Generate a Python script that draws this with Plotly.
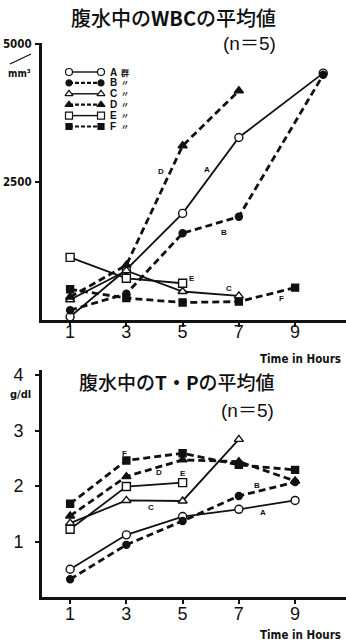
import plotly.graph_objects as go

W, H = 346, 644

# ---------------- data: 腹水中のWBC (per mm3) ----------------
groups = ["A", "B", "C", "D", "E", "F"]
legend_marks = ["群", "〃", "〃", "〃", "〃", "〃"]

wbc_hours_A = [1, 3, 5, 7, 10]
wbc_A = [40, 900, 1920, 3300, 4470]
wbc_hours_B = [1, 3, 5, 7, 10]
wbc_B = [160, 460, 1560, 1860, 4440]
wbc_hours_C = [1, 3, 5, 7]
wbc_C = [350, 880, 500, 420]
wbc_hours_D = [1, 3, 5, 7]
wbc_D = [400, 980, 3150, 4150]
wbc_hours_E = [1, 3, 5]
wbc_E = [1120, 740, 650]
wbc_hours_F = [1, 3, 5, 7, 9]
wbc_F = [540, 380, 300, 316, 570]

# ---------------- data: 腹水中のT・P (g/dl) ----------------
tp_hours_A = [1, 3, 5, 7, 9]
tp_A = [0.50, 1.12, 1.45, 1.58, 1.74]
tp_hours_B = [1, 3, 5, 7, 9]
tp_B = [0.32, 0.94, 1.37, 1.82, 2.07]
tp_hours_C = [1, 3, 5, 7]
tp_C = [1.33, 1.74, 1.73, 2.84]
tp_hours_D = [1, 3, 5, 7, 9]
tp_D = [1.46, 2.17, 2.47, 2.44, 2.09]
tp_hours_E = [1, 3, 5]
tp_E = [1.22, 1.99, 2.06]
tp_hours_F = [1, 3, 5, 7, 9]
tp_F = [1.68, 2.46, 2.59, 2.38, 2.29]

x_ticks = [1, 3, 5, 7, 9]
wbc_ticks = [2500, 5000]
tp_ticks = [1, 2, 3, 4]

# line-label positions (group letter written next to its line)
wbc_lab_x = [5.86, 6.48, 6.65, 4.23, 5.33, 8.50]
wbc_lab_y = [2710, 1580, 560, 2680, 740, 376]
tp_lab_x = [7.87, 7.64, 3.87, 4.16, 5.03, 2.92]
tp_lab_y = [1.53, 2.01, 1.61, 2.24, 2.22, 2.58]

wbc_data = {
    "A": (wbc_hours_A, wbc_A), "B": (wbc_hours_B, wbc_B), "C": (wbc_hours_C, wbc_C),
    "D": (wbc_hours_D, wbc_D), "E": (wbc_hours_E, wbc_E), "F": (wbc_hours_F, wbc_F),
}
tp_data = {
    "A": (tp_hours_A, tp_A), "B": (tp_hours_B, tp_B), "C": (tp_hours_C, tp_C),
    "D": (tp_hours_D, tp_D), "E": (tp_hours_E, tp_E), "F": (tp_hours_F, tp_F),
}

# ---------------- styles ----------------
BLK = "#111111"
DASH = "7px,4px"
style = {
    "A": dict(symbol="circle", fill="white", dash="solid", width=1.8, size=8),
    "B": dict(symbol="circle", fill=BLK, dash=DASH, width=2.8, size=7),
    "C": dict(symbol="triangle-up", fill="white", dash="solid", width=1.8, size=8),
    "D": dict(symbol="triangle-up", fill=BLK, dash=DASH, width=2.8, size=8),
    "E": dict(symbol="square", fill="white", dash="solid", width=1.8, size=8),
    "F": dict(symbol="square", fill=BLK, dash=DASH, width=2.8, size=7),
}

fig = go.Figure()


def add_series(data, xa, ya):
    for g in groups:
        xs, ys = data[g]
        s = style[g]
        fig.add_trace(go.Scatter(
            x=xs, y=ys, xaxis=xa, yaxis=ya, mode="lines+markers",
            line=dict(color=BLK, width=s["width"], dash=s["dash"]),
            marker=dict(symbol=s["symbol"], size=s["size"], color=s["fill"],
                        line=dict(color=BLK, width=1.4)),
            showlegend=False, hoverinfo="skip"))


add_series(wbc_data, "x", "y")
add_series(tp_data, "x2", "y2")

# ---------------- compact legend (top chart), in pixel overlay axes ----------------
leg_x0, leg_x1, leg_text_x, leg_mark_x = 69, 101, 108, 119
leg_y0, leg_gap = 72, 10.9
for i, g in enumerate(groups):
    s = style[g]
    yy = leg_y0 + i * leg_gap
    fig.add_trace(go.Scatter(
        x=[leg_x0, leg_x1], y=[yy, yy], xaxis="x3", yaxis="y3", mode="lines+markers",
        line=dict(color=BLK, width=s["width"] * 0.8,
                  dash="solid" if s["dash"] == "solid" else "4px,2px"),
        marker=dict(symbol=s["symbol"], size=s["size"] - 1, color=s["fill"],
                    line=dict(color=BLK, width=1.2)),
        showlegend=False, hoverinfo="skip"))

annotations = []
for i, (g, mk) in enumerate(zip(groups, legend_marks)):
    yy = leg_y0 + i * leg_gap
    annotations.append(dict(
        x=leg_text_x, y=yy, xref="x3", yref="y3", text="<b>%s</b>" % g,
        showarrow=False, xanchor="left", yanchor="middle",
        font=dict(family="Liberation Sans", size=10, color=BLK)))
    annotations.append(dict(
        x=leg_mark_x, y=yy, xref="x3", yref="y3", text=mk,
        showarrow=False, xanchor="left", yanchor="middle",
        font=dict(family="Noto Sans CJK JP", size=8, color=BLK, weight=700)))

# line-letter labels
for g, lx, ly in zip(groups, wbc_lab_x, wbc_lab_y):
    annotations.append(dict(x=lx, y=ly, xref="x", yref="y", text="<b>%s</b>" % g,
                            showarrow=False,
                            font=dict(family="Liberation Sans", size=8, color=BLK)))
for g, lx, ly in zip(groups, tp_lab_x, tp_lab_y):
    annotations.append(dict(x=lx, y=ly, xref="x2", yref="y2", text="<b>%s</b>" % g,
                            showarrow=False,
                            font=dict(family="Liberation Sans", size=8, color=BLK)))

CJK = "Noto Sans CJK JP"
NARROW = "Liberation Sans Narrow, DejaVu Sans Condensed, Arial Narrow, sans-serif"
LAT = "Liberation Sans, Noto Sans CJK JP"


def pix_text(x, y, text, size, family, anchor="center", bold=False, weight=None):
    f = dict(family=family, size=size, color=BLK)
    if weight:
        f["weight"] = weight
    annotations.append(dict(
        x=x, y=y, xref="x3", yref="y3", text=("<b>%s</b>" % text) if bold else text,
        showarrow=False, xanchor=anchor, yanchor="middle", font=f))


pix_text(173, 17, "腹水中の<b>WBC</b>の平均値", 20, CJK, weight=500)
pix_text(249, 43, "(n＝5)", 19, LAT)
pix_text(177, 381, "腹水中の<b>T・P</b>の平均値", 19, CJK, weight=500)
pix_text(247, 410, "(n＝5)", 19, LAT)
pix_text(343, 359, "Time in Hours", 11.5, NARROW, anchor="right", bold=True)
pix_text(343, 635, "Time in Hours", 11.5, NARROW, anchor="right", bold=True)
pix_text(19, 73, "mm³", 10, NARROW, bold=True)
pix_text(20, 394, "g/dl", 11, NARROW, bold=True)

shapes = [dict(type="line", xref="x3", yref="y3", x0=10, y0=64, x1=31, y1=54,
               line=dict(color=BLK, width=1.3))]

axis_common = dict(showgrid=False, zeroline=False, showline=True, linecolor=BLK,
                   linewidth=3, ticks="outside", tickcolor=BLK, ticklen=4,
                   tickwidth=2, automargin=False)

X_DOMAIN = [42 / W, 1.0]
fig.update_layout(
    width=W, height=H, margin=dict(l=0, r=0, t=0, b=0),
    paper_bgcolor="white", plot_bgcolor="rgba(0,0,0,0)",
    showlegend=False,
    xaxis=dict(domain=X_DOMAIN, range=[0, 10.81], anchor="y", tickvals=x_ticks,
               ticklabelstandoff=-11,
               tickfont=dict(family="Liberation Sans", size=18, color=BLK), **axis_common),
    yaxis=dict(domain=[(H - 320) / H, (H - 43) / H], range=[-18, 5018], anchor="x",
               tickvals=wbc_ticks, ticklabelstandoff=1,
               tickfont=dict(family=NARROW, size=11.5, color=BLK, weight=700), **axis_common),
    xaxis2=dict(domain=X_DOMAIN, range=[0, 10.81], anchor="y2", tickvals=x_ticks,
                ticklabelstandoff=-6,
                tickfont=dict(family="Liberation Sans", size=18, color=BLK), **axis_common),
    yaxis2=dict(domain=[(H - 597) / H, (H - 370) / H], range=[0, 4.09], anchor="x2",
                tickvals=tp_ticks, ticklabelstandoff=8,
                tickfont=dict(family="Liberation Sans", size=18, color=BLK), **axis_common),
    xaxis3=dict(domain=[0, 1], range=[0, W], anchor="y3", visible=False),
    yaxis3=dict(domain=[0, 1], range=[H, 0], anchor="x3", visible=False),
    annotations=annotations,
    shapes=shapes,
)

fig.write_html("out.html")
